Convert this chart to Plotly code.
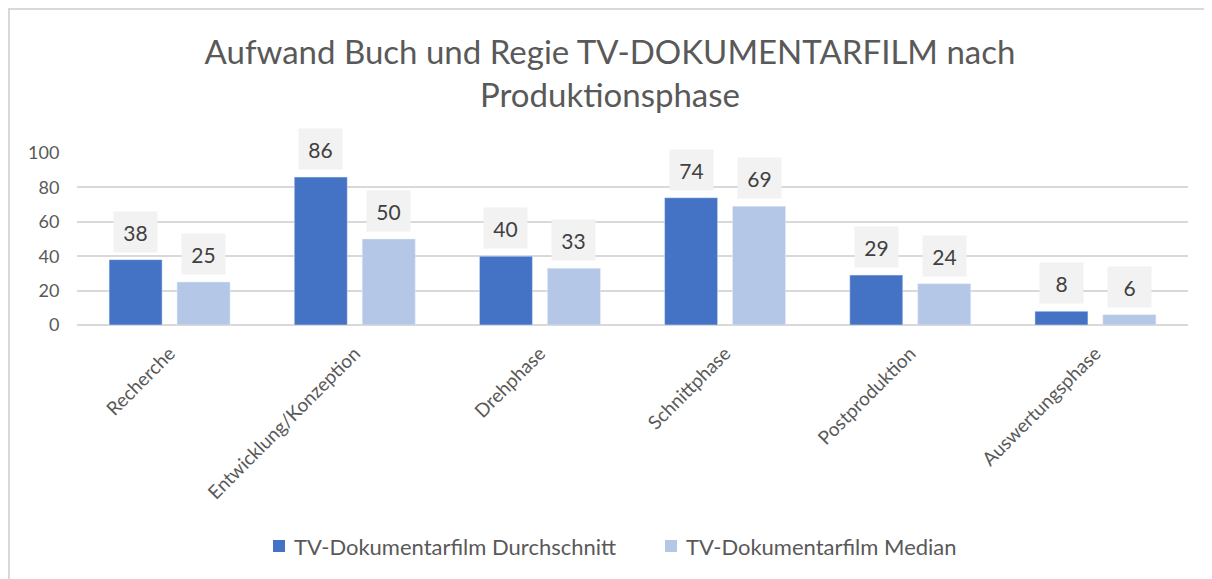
import plotly.graph_objects as go

categories = ["Recherche", "Entwicklung/Konzeption", "Drehphase", "Schnittphase", "Postproduktion", "Auswertungsphase"]
durchschnitt = [38, 86, 40, 74, 29, 8]
median = [25, 50, 33, 69, 24, 6]
series_names = ["TV-Dokumentarfilm Durchschnitt", "TV-Dokumentarfilm Median"]
series_colors = ["#4472c4", "#b4c7e7"]
y_ticks = [0, 20, 40, 60, 80, 100]

# page body has an 8px margin, so the figure is laid out in coordinates offset by 8px
OFF = 8
W, H = 1212 - OFF, 579 - OFF
L, R, T, B = 77 - OFF, 24, 153 - OFF, 254
FONT = "Lato"
TXT = "#595959"

fig = go.Figure()
for name, vals, col in zip(series_names, (durchschnitt, median), series_colors):
    fig.add_trace(go.Bar(x=categories, y=vals, name=name, marker_color=col, showlegend=False))

ann = []
for vals, shift in ((durchschnitt, -34), (median, 34)):
    for c, v in zip(categories, vals):
        ann.append(dict(x=c, y=v, xref="x", yref="y", text=str(v), showarrow=False,
                        xshift=shift, yshift=7, yanchor="bottom", width=41, height=38,
                        bgcolor="#f2f2f2", font=dict(family=FONT, size=21, color="#404040")))

pw = W - L - R
ph = H - T - B
px = lambda p: (p - OFF - L) / pw          # reference pixel -> paper x
py = lambda p: (H - B - (p - OFF)) / ph    # reference pixel -> paper y
shapes = [
    dict(type="line", xref="paper", yref="paper", x0=px(8), x1=px(1215), y0=py(9), y1=py(9),
         line=dict(color="#d9d9d9", width=2)),
    dict(type="line", xref="paper", yref="paper", x0=px(9), x1=px(9), y0=py(9), y1=py(582),
         line=dict(color="#d9d9d9", width=2)),
]

# legend drawn as swatches + labels
legend_x = [273, 665]
for name, col, lx in zip(series_names, series_colors, legend_x):
    shapes.append(dict(type="rect", xref="paper", yref="paper", x0=px(lx), x1=px(lx + 12),
                       y0=py(552), y1=py(540), fillcolor=col, line=dict(width=0)))
    ann.append(dict(x=px(lx + 19), y=py(546), xref="paper", yref="paper", text=name, showarrow=False,
                    xanchor="left", yanchor="middle", font=dict(family=FONT, size=22, color=TXT)))

fig.update_layout(
    width=W, height=H,
    margin=dict(l=L, r=R, t=T, b=B),
    paper_bgcolor="white", plot_bgcolor="white",
    barmode="group", bargap=0.266, bargroupgap=0.22,
    showlegend=False,
    title=dict(text="Aufwand Buch und Regie TV-DOKUMENTARFILM nach<br>Produktionsphase",
               x=0.5, xref="container", xanchor="center", y=1 - (64 - OFF) / H, yanchor="middle",
               font=dict(family=FONT, size=33, color=TXT)),
    xaxis=dict(tickangle=-45, tickfont=dict(family=FONT, size=19, color=TXT),
               showgrid=False, showline=False, ticks="outside", ticklen=9, tickcolor="rgba(0,0,0,0)"),
    yaxis=dict(range=[0, 100], tickvals=y_ticks, tickfont=dict(family=FONT, size=18, color=TXT),
               gridcolor="#d9d9d9", gridwidth=2, zeroline=True, zerolinecolor="#d9d9d9", zerolinewidth=2,
               showline=False, ticks="outside", ticklen=13, tickcolor="rgba(0,0,0,0)"),
    annotations=ann,
    shapes=shapes,
)

fig.write_html("out.html")
